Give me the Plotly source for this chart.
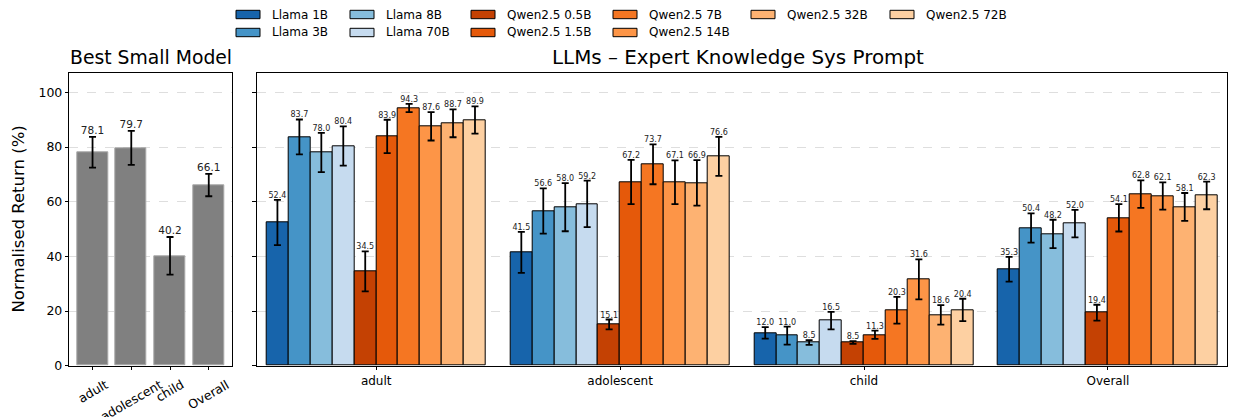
import plotly.graph_objects as go

W, H = 1233, 417
FONT = "DejaVu Sans"

# ---------------- data ----------------
categories = ["adult", "adolescent", "child", "Overall"]

models = ["Llama 1B", "Llama 3B", "Llama 8B", "Llama 70B",
          "Qwen2.5 0.5B", "Qwen2.5 1.5B", "Qwen2.5 7B", "Qwen2.5 14B",
          "Qwen2.5 32B", "Qwen2.5 72B"]

llama_1b = [52.4, 41.5, 12.0, 35.3]
llama_3b = [83.7, 56.6, 11.0, 50.4]
llama_8b = [78.0, 58.0, 8.5, 48.2]
llama_70b = [80.4, 59.2, 16.5, 52.0]
qwen_05b = [34.5, 15.1, 8.5, 19.4]
qwen_15b = [83.9, 67.2, 11.3, 54.1]
qwen_7b = [94.3, 73.7, 20.3, 62.8]
qwen_14b = [87.6, 67.1, 31.6, 62.1]
qwen_32b = [88.7, 66.9, 18.6, 58.1]
qwen_72b = [89.9, 76.6, 20.4, 62.3]

llama_1b_err = [8.3, 7.5, 2.1, 4.5]
llama_3b_err = [6.4, 8.3, 3.3, 5.35]
llama_8b_err = [7.2, 8.8, 0.85, 5.2]
llama_70b_err = [7.2, 8.5, 3.2, 5.05]
qwen_05b_err = [7.3, 1.8, 0.5, 2.9]
qwen_15b_err = [6.1, 8.1, 1.5, 5.0]
qwen_7b_err = [1.5, 7.3, 4.9, 5.05]
qwen_14b_err = [5.2, 8.0, 7.3, 5.0]
qwen_32b_err = [5.1, 8.3, 3.6, 5.1]
qwen_72b_err = [5.0, 7.1, 4.1, 5.05]

best_small = [78.1, 79.7, 40.2, 66.1]
best_small_err = [5.6, 6.2, 6.9, 4.1]

model_colors = ["#1764ab", "#4594c7", "#86bddc", "#c6dbef",
                "#c44103", "#e5590a", "#f57622", "#fd9547", "#fdb272", "#fdd0a2"]

values = [llama_1b, llama_3b, llama_8b, llama_70b, qwen_05b,
          qwen_15b, qwen_7b, qwen_14b, qwen_32b, qwen_72b]
errors = [llama_1b_err, llama_3b_err, llama_8b_err, llama_70b_err, qwen_05b_err,
          qwen_15b_err, qwen_7b_err, qwen_14b_err, qwen_32b_err, qwen_72b_err]

# ---------------- helpers ----------------
def px(x):
    return x / W

def py(y):
    return 1 - y / H

fig = go.Figure()

# ---------------- left panel ----------------
idx = list(range(len(categories)))
fig.add_trace(go.Bar(
    x=idx, y=best_small, width=0.8,
    marker=dict(color="#808080", line=dict(color="#a8a8a8", width=1)),
    error_y=dict(type="data", array=best_small_err, color="black", thickness=1.8, width=3.5),
    xaxis="x", yaxis="y", showlegend=False, hoverinfo="skip"))
fig.add_trace(go.Scatter(
    x=idx, y=[v + e for v, e in zip(best_small, best_small_err)],
    mode="text", text=[f"{v:.1f}" for v in best_small], textposition="top center",
    textfont=dict(family=FONT, size=10.5, color="#222"),
    xaxis="x", yaxis="y", showlegend=False, hoverinfo="skip", cliponaxis=False))

# ---------------- right panel ----------------
bar_w = 0.09
n = len(models)
for k, (name, vals, errs, col) in enumerate(zip(models, values, errors, model_colors)):
    xs = [ci + (k - (n - 1) / 2) * bar_w for ci in idx]
    fig.add_trace(go.Bar(
        x=xs, y=vals, width=bar_w, name=name,
        marker=dict(color=col, line=dict(color="black", width=1)),
        error_y=dict(type="data", array=errs, color="black", thickness=1.8, width=3.5),
        xaxis="x2", yaxis="y2", showlegend=False, hoverinfo="skip"))
    fig.add_trace(go.Scatter(
        x=xs, y=[v + e for v, e in zip(vals, errs)],
        mode="text", text=[f"{v:.1f}" for v in vals], textposition="top center",
        textfont=dict(family=FONT, size=8, color="#222"),
        xaxis="x2", yaxis="y2", showlegend=False, hoverinfo="skip", cliponaxis=False))

# ---------------- axes ----------------
ydom = [py(365.7), py(73.3)]
common_axis = dict(showline=True, linecolor="black", linewidth=1, mirror=True,
                   ticks="outside", ticklen=3.5, tickwidth=0.8, tickcolor="black",
                   zeroline=False, automargin=False)
grid = dict(showgrid=True, gridcolor="#dedede", gridwidth=0.8, griddash="dash")

fig.update_layout(
    width=W, height=H, autosize=False,
    margin=dict(l=0, r=0, t=0, b=0),
    plot_bgcolor="white", paper_bgcolor="white",
    font=dict(family=FONT, size=12, color="black"),
    bargap=0,
    xaxis=dict(domain=[px(69.3), px(232)], range=[-0.6, 3.6], tickvals=idx,
               showticklabels=False, showgrid=False, anchor="y", **common_axis),
    yaxis=dict(domain=ydom, range=[0, 107], tickvals=[0, 20, 40, 60, 80, 100],
               tickfont=dict(size=12.5), anchor="x", **grid, **common_axis),
    xaxis2=dict(domain=[px(256.7), px(1227.4)], range=[-0.49, 3.49], tickvals=idx,
                ticktext=categories, tickfont=dict(size=12), showgrid=False,
                anchor="y2", **common_axis),
    yaxis2=dict(domain=ydom, range=[0, 107], tickvals=[0, 20, 40, 60, 80, 100],
                showticklabels=False, anchor="x2", **grid, **common_axis),
)

annotations = []
# rotated x tick labels for left panel
for i, c in enumerate(categories):
    annotations.append(dict(x=i, y=py(374), xref="x", yref="paper", text=c,
                            textangle=-30, showarrow=False, xanchor="center",
                            yanchor="top", font=dict(size=12.5)))
# titles
annotations.append(dict(x=px(150.6), y=py(57), xref="paper", yref="paper",
                        text="Best Small Model", showarrow=False,
                        xanchor="center", yanchor="middle", font=dict(size=18.8)))
annotations.append(dict(x=px(738.5), y=py(57.5), xref="paper", yref="paper",
                        text="LLMs – Expert Knowledge Sys Prompt", showarrow=False,
                        xanchor="center", yanchor="middle", font=dict(size=19.9)))
annotations.append(dict(x=px(18), y=py(219.5), xref="paper", yref="paper",
                        text="Normalised Return (%)", textangle=-90, showarrow=False,
                        xanchor="center", yanchor="middle", font=dict(size=16.5)))

# legend (2 rows, column-major, 6 columns)
col_x = [236, 350, 471, 613, 751, 890]
row_y = [14.5, 32.5]
shapes = []
for k, (name, col) in enumerate(zip(models, model_colors)):
    if k < 8:
        c, r = k // 2, k % 2
    else:
        c, r = 4 + (k - 8), 0
    x0 = col_x[c]
    yc = row_y[r]
    shapes.append(dict(type="rect", xref="paper", yref="paper",
                       x0=px(x0), x1=px(x0 + 24), y0=py(yc + 4.2), y1=py(yc - 4.2),
                       fillcolor=col, line=dict(color="black", width=1)))
    annotations.append(dict(x=px(x0 + 33.6), y=py(yc), xref="paper", yref="paper",
                            text=name, showarrow=False, xanchor="left",
                            yanchor="middle", font=dict(size=12)))

fig.update_layout(annotations=annotations, shapes=shapes)

fig.write_html(
    "out.html",
    config={"displayModeBar": False},
    post_script="document.body.style.margin='0';document.body.style.padding='0';"
                "document.body.style.overflow='hidden';",
)
